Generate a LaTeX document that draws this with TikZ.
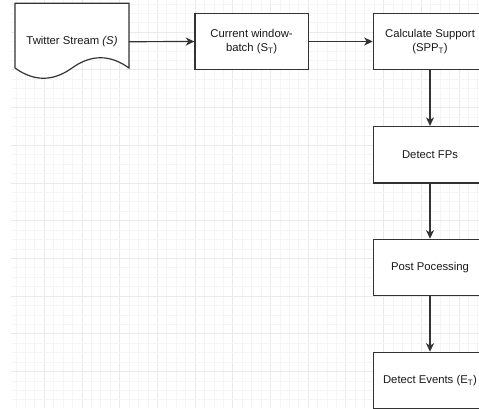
\documentclass[tikz,border=0pt]{standalone}
\usepackage{fontspec}
\setmainfont{Liberation Sans}
\usetikzlibrary{arrows.meta}
\definecolor{stroke}{HTML}{333333}
\definecolor{gridmaj}{HTML}{EAEAEA}
\definecolor{gridmin}{HTML}{F5F5F5}
\tikzset{
  procbox/.style={draw=stroke, line width=1.2pt, fill=white, minimum width=113.3pt, minimum height=56.4pt, inner sep=0pt, align=center, text=black!90, font=\fontsize{11.3}{14}\selectfont},
  conn/.style={draw=stroke, line width=1.2pt, -{Stealth[length=8.5pt,width=8pt,inset=2.4pt]}},
}
\begin{document}
\begin{tikzpicture}[x=1pt,y=-1pt]
\useasboundingbox (0,0) rectangle (479,408);
\clip (0,0) rectangle (479,408);
% grid
\foreach \i in {0,...,49} {
  \pgfmathsetmacro{\xx}{16.0+9.425*\i}
  \pgfmathtruncatemacro{\m}{mod(\i,4)}
  \ifnum\m=3
    \draw[gridmaj, line width=0.9pt] (\xx,0) -- (\xx,408);
  \else
    \draw[gridmin, line width=0.8pt] (\xx,0) -- (\xx,408);
  \fi
}
\foreach \i in {0,...,43} {
  \pgfmathsetmacro{\yy}{3.9+9.425*\i}
  \pgfmathtruncatemacro{\m}{mod(\i,4)}
  \ifnum\m=3
    \draw[gridmaj, line width=0.9pt] (11,\yy) -- (479,\yy);
  \else
    \draw[gridmin, line width=0.8pt] (11,\yy) -- (479,\yy);
  \fi
}
% document shape
\draw[draw=stroke, line width=1.2pt, fill=white] (15,3.3) -- (129,3.3) -- (129,68)
  .. controls (110,54.33) and (91,54.33) .. (72,68)
  .. controls (53,81.67) and (34,81.67) .. (15,68) -- cycle;
\node[minimum width=114pt, minimum height=20pt, inner sep=0pt, text=black!90, font=\fontsize{11.3}{14}\selectfont] (doc) at (72,41.7) {Twitter Stream \textit{(S)}};
% boxes
\node[procbox] (win) at (251.6,41.5) {Current window-\\batch (S\textsubscript{T})};
\node[procbox] (sup) at (430,41.5) {Calculate Support\\(SPP\textsubscript{T})};
\node[procbox] (fps) at (430,154.7) {Detect FPs};
\node[procbox] (post) at (430,267.5) {Post Pocessing};
\node[procbox] (ev) at (430,380.5) {Detect Events (E\textsubscript{T})};
% connectors
\draw[conn] (doc.east) -- (win.west);
\draw[conn] (win.east) -- (sup.west);
\draw[conn] (sup.south) -- (fps.north);
\draw[conn] (fps.south) -- (post.north);
\draw[conn] (post.south) -- (ev.north);
\end{tikzpicture}
\end{document}
